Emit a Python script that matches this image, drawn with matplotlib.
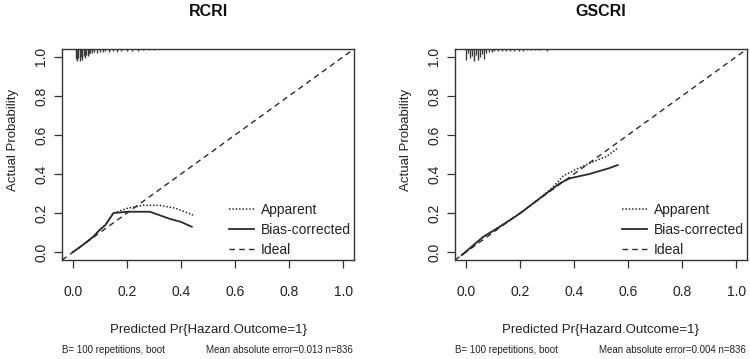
import matplotlib
matplotlib.use('Agg')
import matplotlib.pyplot as plt

plt.rcParams['font.family'] = ['Liberation Sans', 'DejaVu Sans']

# RCRI calibration curves
rcri_app_x = [0.0, 0.04, 0.075, 0.10, 0.12, 0.15, 0.20, 0.26, 0.32, 0.38, 0.445]
rcri_app_y = [0.0, 0.04, 0.08, 0.115, 0.14, 0.20, 0.224, 0.24, 0.24, 0.225, 0.19]
rcri_bias_x = [0.0, 0.04, 0.075, 0.10, 0.12, 0.15, 0.20, 0.285, 0.36, 0.40, 0.44]
rcri_bias_y = [0.0, 0.04, 0.078, 0.115, 0.138, 0.20, 0.207, 0.207, 0.17, 0.155, 0.13]
rcri_rug_x = [0.010, 0.015, 0.020, 0.025, 0.030, 0.035, 0.040, 0.045, 0.050, 0.055,
              0.060, 0.065, 0.070, 0.080, 0.090, 0.100, 0.110, 0.120, 0.135, 0.150,
              0.165, 0.180, 0.200, 0.220, 0.240, 0.260, 0.280, 0.300]
rcri_rug_f = [10, 12, 9, 12, 8, 11, 7, 9, 6, 7, 5, 4, 4, 3, 4, 3, 3, 2, 3, 2,
              3, 2, 2, 2, 2, 1.5, 1.5, 1.5]

# GSCRI calibration curves
gscri_app_x = [-0.015, 0.064, 0.125, 0.20, 0.273, 0.32, 0.36, 0.408, 0.457, 0.52, 0.56]
gscri_app_y = [-0.015, 0.078, 0.13, 0.198, 0.275, 0.33, 0.39, 0.424, 0.455, 0.49, 0.53]
gscri_bias_x = [-0.015, 0.064, 0.125, 0.20, 0.273, 0.347, 0.384, 0.457, 0.53, 0.562]
gscri_bias_y = [-0.015, 0.078, 0.13, 0.198, 0.275, 0.352, 0.378, 0.40, 0.43, 0.446]
gscri_rug_x = [0.000, 0.008, 0.015, 0.022, 0.030, 0.038, 0.045, 0.052, 0.060, 0.068,
               0.075, 0.085, 0.095, 0.105, 0.120, 0.135, 0.150, 0.165, 0.180, 0.195,
               0.210, 0.225, 0.240, 0.255, 0.270, 0.300]
gscri_rug_f = [11, 4, 9, 7, 12, 6, 11, 8, 5, 10, 4, 3, 3, 2, 2.5, 2, 2, 2, 2, 2,
               2, 1.5, 1.5, 1.5, 1.5, 2]

panels = [
    ('RCRI', rcri_app_x, rcri_app_y, rcri_bias_x, rcri_bias_y, rcri_rug_x, rcri_rug_f, '0.013'),
    ('GSCRI', gscri_app_x, gscri_app_y, gscri_bias_x, gscri_bias_y, gscri_rug_x, gscri_rug_f, '0.004'),
]

W, H = 750, 359
fig = plt.figure(figsize=(7.5, 3.59), dpi=100)

boxes = [(62, 354), (455, 747)]
top_px, bot_px = 49, 260
ticks = [0.0, 0.2, 0.4, 0.6, 0.8, 1.0]
lc = '#2b2b2b'

for (name, ax_, ay_, bx_, by_, rx, rf, mae), (x0, x1) in zip(panels, boxes):
    ax = fig.add_axes([x0 / W, 1 - bot_px / H, (x1 - x0) / W, (bot_px - top_px) / H])
    ax.set_xlim(-0.04, 1.04)
    ax.set_ylim(-0.04, 1.04)

    ax.plot(ax_, ay_, color=lc, lw=1.1, linestyle=(0, (1, 1.2)), label='Apparent')
    ax.plot(bx_, by_, color=lc, lw=1.3, linestyle='-', label='Bias-corrected')
    ax.axline((0, 0), slope=1, color=lc, lw=1.0, linestyle=(0, (4, 3)), label='Ideal')

    # rug of predicted probabilities hanging from the top frame
    scale = 0.005
    ax.vlines(rx, [1.04 - f * scale for f in rf], 1.04, color='#3a3a3a', lw=1.0)

    ax.set_xticks(ticks)
    ax.set_yticks(ticks)
    ax.set_xticklabels([f'{t:.1f}' for t in ticks])
    ax.set_yticklabels([f'{t:.1f}' for t in ticks], rotation=90, va='center')
    ax.tick_params(axis='both', direction='out', length=6, width=0.9, colors='#333333',
                   labelsize=10, labelcolor='#222222')
    ax.tick_params(axis='x', pad=12)
    ax.tick_params(axis='y', pad=4)
    for sp in ax.spines.values():
        sp.set_linewidth(1.0)
        sp.set_color('#333333')

    leg = ax.legend(loc='lower right', frameon=False, fontsize=10, handlelength=1.75,
                    handletextpad=0.55, labelspacing=0.45, borderaxespad=0.0,
                    borderpad=0.2)
    for t in leg.get_texts():
        t.set_color('#222222')

    cx = (x0 + x1) / 2 / W
    fig.text(cx, 1 - 11 / H, name, ha='center', va='center', fontsize=11.5,
             fontweight='bold', color='#111111')
    fig.text(cx, 1 - 330 / H, 'Predicted Pr{Hazard.Outcome=1}', ha='center', va='center',
             fontsize=9.5, color='#222222')
    fig.text((x0 - 49) / W, 1 - 140 / H, 'Actual Probability', ha='center', va='center',
             rotation=90, fontsize=9.5, color='#222222')
    fig.text(x0 / W, 1 - 350 / H, 'B= 100 repetitions, boot', ha='left', va='center',
             fontsize=7, color='#222222')
    fig.text((x1 - 1) / W, 1 - 350 / H, f'Mean absolute error={mae} n=836', ha='right',
             va='center', fontsize=7, color='#222222')

plt.savefig('out.png', dpi=100)
